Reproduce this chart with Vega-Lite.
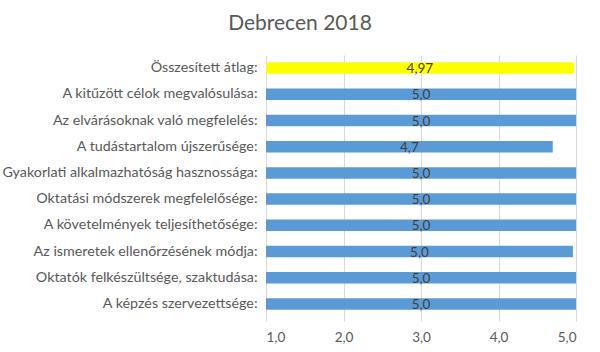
{
  "$schema": "https://vega.github.io/schema/vega-lite/v6.json",
  "width": 310,
  "height": 262,
  "autosize": {"type": "none"},
  "padding": {"left": 266, "top": 55, "right": 24, "bottom": 35},
  "background": "white",
  "title": {
    "text": "Debrecen 2018",
    "anchor": "middle",
    "dx": -121,
    "offset": 21,
    "font": "Lato",
    "fontSize": 21,
    "fontWeight": "normal",
    "color": "#595959"
  },
  "data": {
    "values": [
      {"kat": "Összesített átlag:", "ertek": 4.97, "cimke": "4,97", "tipus": "atlag"},
      {"kat": "A kitűzött célok megvalósulása:", "ertek": 5.0, "cimke": "5,0", "tipus": "tetel"},
      {"kat": "Az elvárásoknak való megfelelés:", "ertek": 5.0, "cimke": "5,0", "tipus": "tetel"},
      {"kat": "A tudástartalom újszerűsége:", "ertek": 4.7, "cimke": "4,7", "tipus": "tetel"},
      {"kat": "Gyakorlati alkalmazhatóság hasznossága:", "ertek": 5.0, "cimke": "5,0", "tipus": "tetel"},
      {"kat": "Oktatási módszerek megfelelősége:", "ertek": 5.0, "cimke": "5,0", "tipus": "tetel"},
      {"kat": "A követelmények teljesíthetősége:", "ertek": 5.0, "cimke": "5,0", "tipus": "tetel"},
      {"kat": "Az ismeretek ellenőrzésének módja:", "ertek": 4.96, "cimke": "5,0", "tipus": "tetel"},
      {"kat": "Oktatók felkészültsége, szaktudása:", "ertek": 5.0, "cimke": "5,0", "tipus": "tetel"},
      {"kat": "A képzés szervezettsége:", "ertek": 5.0, "cimke": "5,0", "tipus": "tetel"}
    ]
  },
  "transform": [{"calculate": "(1 + datum.ertek) / 2", "as": "kozep"}],
  "encoding": {
    "y": {
      "field": "kat",
      "type": "nominal",
      "sort": null,
      "title": null,
      "scale": {"paddingInner": 0.56, "paddingOuter": 0.28},
      "axis": {
        "ticks": false,
        "domain": false,
        "labelPadding": 9,
        "labelFont": "Lato",
        "labelFontSize": 14.3,
        "labelColor": "#595959",
        "labelLimit": 300
      }
    }
  },
  "layer": [
    {
      "mark": {"type": "bar"},
      "encoding": {
        "x": {
          "field": "ertek",
          "type": "quantitative",
          "scale": {"domain": [1, 5], "zero": false, "nice": false},
          "title": null,
          "axis": {
            "values": [1, 2, 3, 4, 5],
            "labelExpr": "replace(format(datum.value, '.1f'), '.', ',')",
            "grid": true,
            "gridColor": "#d9d9d9",
            "domain": false,
            "ticks": true,
            "tickSize": 4,
            "tickColor": "#d9d9d9",
            "labelPadding": 9,
            "labelFont": "Lato",
            "labelFontSize": 13.5,
            "labelColor": "#595959"
          }
        },
        "x2": {"datum": 1},
        "color": {
          "field": "tipus",
          "type": "nominal",
          "scale": {"domain": ["atlag", "tetel"], "range": ["#ffff00", "#5b9bd5"]},
          "legend": null
        }
      }
    },
    {
      "mark": {"type": "text", "align": "center", "baseline": "middle", "font": "Lato", "fontSize": 13.5, "color": "#404040", "dy": 1},
      "encoding": {
        "x": {"field": "kozep", "type": "quantitative"},
        "text": {"field": "cimke", "type": "nominal"}
      }
    }
  ],
  "config": {"view": {"stroke": null}}
}
